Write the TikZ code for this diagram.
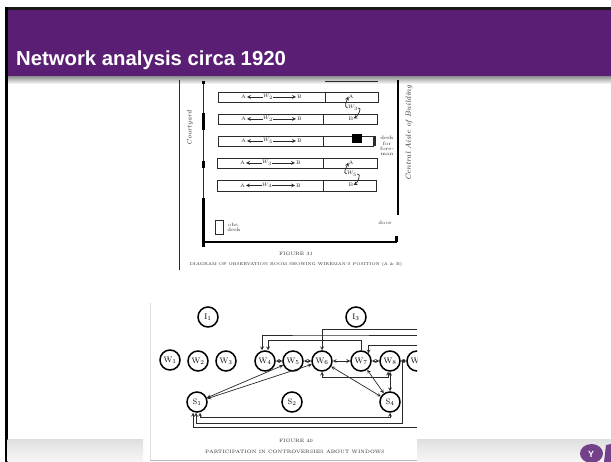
\documentclass[tikz,border=0pt]{standalone}
\usepackage{fontspec}
\setsansfont{Liberation Sans}
\usetikzlibrary{calc}
\definecolor{slidepurple}{HTML}{5A1F75}
\definecolor{inkgray}{HTML}{2A2A2A}
\tikzset{
  deskbox/.style={draw=inkgray,line width=0.9pt},
  wallthick/.style={draw=black,line width=3pt},
  wallthin/.style={draw=inkgray,line width=0.6pt},
  wire/.style={draw=inkgray,line width=0.7pt},
  person/.style={circle,draw=black,line width=1.5pt,fill=white,minimum size=20pt,inner sep=0pt,font=\fontsize{8}{8}\selectfont},
  tiny/.style={inkgray,font=\fontsize{5}{5.4}\selectfont,inner sep=0pt},
  capt/.style={inkgray,font=\fontsize{4.8}{5}\selectfont,inner sep=0pt}
}
\begin{document}
\begin{tikzpicture}[x=1pt,y=-1pt,>=stealth]
 \useasboundingbox (0,0) rectangle (611,462);
 % slide
 \fill[white] (0,0) rectangle (611,462);
 \shade[top color=gray!90,bottom color=white] (7,76) rectangle (611,84);
 \fill[slidepurple] (7,9) rectangle (611,76);
 \fill[black!90] (5,7) rectangle (611,10);
 \fill[black] (5,7) rectangle (7.5,462);
 \shade[top color=black!12,bottom color=black!3] (7.5,440) rectangle (143,462);
 \shade[top color=black!12,bottom color=black!3] (417,440) rectangle (611,462);
 \node[anchor=base west,inner sep=0pt,text=white,font=\sffamily\bfseries\fontsize{20.3}{20.3}\selectfont] (title) at (16,66) {Network analysis circa 1920};
 % logo
 \fill[slidepurple!85] (591.5,453.5) ellipse (11.5 and 9.5);
 \fill[slidepurple!85] (606,445) -- (611,444) -- (611,462) -- (604,462) -- cycle;
 \node[text=white,inner sep=0pt,font=\sffamily\bfseries\fontsize{9}{9}\selectfont] (logo) at (591,454) {Y};
 % floor plan
 \draw[wallthin] (179,80) -- (179,270);
 \draw[wallthin] (325,81) -- (378,81);
 \draw[wallthin] (203,81) -- (203,198);
 \draw[wallthick] (203,81) -- (203,84);
 \draw[wallthick] (203,113) -- (203,130);
 \draw[wallthick] (203,161) -- (203,168);
 \draw[wallthick] (203,198) -- (203,247);
 \draw[draw=black,line width=1.6pt] (203,242) -- (397,242);
 \draw[draw=black,line width=2pt] (397.5,80) -- (397.5,215);
 \draw[wallthick] (396,236) -- (396,242);
 \foreach \xa/\xb/\xm/\ya/\yb/\ww in {218/378/325/92/102/{W_2},218/377/323/114/124/{W_2},218/373/323/136/146/{W_5},217/377/323/158/168/{W_3},217/376/323/180/191/{W_4}}{
  \draw[deskbox] (\xa,\ya) rectangle (\xb,\yb);
  \draw[deskbox] (\xm,\ya) -- (\xm,\yb);
  \coordinate (a) at (\xa+29,\ya/2+\yb/2);
  \coordinate (b) at (\xa+78,\ya/2+\yb/2);
  \node[tiny] (wn) at (\xa+50,\ya/2+\yb/2) {$\ww$};
  \draw[wire,<-] (a) -- (wn);
  \draw[wire,->] (wn) -- (b);
  \node[tiny,anchor=east] at (a) {A\,};
  \node[tiny,anchor=west] at (b) {\,B};
 }
 \fill[black] (352,134) rectangle (362,143);
 \draw[wire] (362,136) -- (376,136);
 \draw[draw=inkgray,line width=2pt] (375,137) -- (375,146);
 \node[tiny,align=center] (forman) at (387,146) {desk\\for\\fore-\\man};
 \node[tiny] (ra) at (351,96.5) {A};
 \node[tiny] (rb) at (351,118.5) {B};
 \node[tiny] (rc) at (351,162.5) {A};
 \node[tiny] (rd) at (351,185) {B};
 \node[tiny] (we) at (353,108) {$W_3$};
 \node[tiny] (wf) at (352,174) {$W_5$};
 \draw[wire,->] (we.west) to[out=170,in=250] (ra.west);
 \draw[wire,->] (we.east) to[out=10,in=30] (rb.east);
 \draw[wire,->] (wf.west) to[out=170,in=250] (rc.west);
 \draw[wire,->] (wf.east) to[out=10,in=30] (rd.east);
 \node[tiny,rotate=90,font=\fontsize{6.6}{7}\selectfont] (yard) at (190,128) {\textit{Courtyard}};
 \node[tiny,rotate=90,font=\fontsize{7.4}{8}\selectfont] (aisle) at (409,133) {\textit{Central Aisle of Building}};
 \draw[deskbox] (215.5,220) rectangle (223,234);
 \node[tiny,align=center] (obs) at (234,227) {obs.\\desk};
 \node[tiny] (door) at (385,223) {door};
 \node[capt] (figa) at (296,254) {FIGURE 31};
 \node[capt,font=\fontsize{4.1}{5}\selectfont] (capa) at (296,264) {DIAGRAM OF OBSERVATION ROOM SHOWING WIREMAN'S POSITION (A \& B)};
 % network
 \draw[gray!25,line width=0.7pt] (150,303) -- (150,460);
 \draw[gray!55,line width=0.8pt] (150,460.5) -- (417,460.5);
 \begin{scope}
  \clip (145,295) rectangle (417,462);
  \foreach \n/\xx/\yy/\ll in {I1/208/317/{I$_1$},I3/356/317/{I$_3$},W1/170/360/{W$_1$},W2/198/361/{W$_2$},W3/226/361/{W$_3$},W4/265/361/{W$_4$},W5/293/361/{W$_5$},W6/322/361/{W$_6$},W7/361/361/{W$_7$},W8/390/361/{W$_8$},W9/417/361/{W$_9$},S1/197/402/{S$_1$},S2/292/402/{S$_2$},S4/390/402/{S$_4$}}
   \node[person] (\n) at (\xx,\yy) {\ll};
  \coordinate (e1) at (417,329.5);
  \coordinate (e2) at (417,335);
  \coordinate (e3) at (417,345);
  \coordinate (e4) at (417,427);
  \coordinate (c1) at (390,417);
  \coordinate (c2) at (402,423);
  \coordinate (c3) at (402,361);
  \coordinate (c4) at (322,377);
  \coordinate (c5) at (388,377);
  \coordinate (c6) at (322,335);
  \coordinate (c7) at (361,340);
  \coordinate (c8) at (322,329.5);
  \draw[wire,<->] (W4) -- (W5);
  \draw[wire,<->] (W5) -- (W6);
  \draw[wire,<->] (W6) -- (W7);
  \draw[wire,<->] (W7) -- (W8);
  \draw[wire,<->] (W8) -- (W9);
  \draw[wire,<->] (S1) -- (W5);
  \draw[wire,<->] (S1) -- (W6);
  \draw[wire,<->] (W6) -- (S4);
  \draw[wire,<->] (W7) -- (S4);
  \draw[wire,<->] (W8) -- (S4);
  \draw[wire,<->] ($(S1.south)+(3,0)$) |- (c1) -- (S4.south);
  \draw[wire,<->] ($(S1.south)+(-1,0)$) |- (c2) -- (c3) -- (W8.east);
  \draw[wire,<-] ($(S1.south)+(-4,0)$) |- (e4);
  \draw[wire,<->] (W6.south) -- (c4) -- (c5) -- ($(W8.south)+(-2,0)$);
  \draw[wire,<-] ($(W4.north)+(-3,0)$) |- (c6) -- (e2);
  \draw[wire,<-] ($(W4.north)+(3,0)$) |- (c7) -- (W7.north);
  \draw[wire,<-] (W6.north) -- (c8) -- (e1);
  \draw[wire,<-] (W7.north east) |- (e3);
 \end{scope}
 \node[capt] (figb) at (296,441) {FIGURE 40};
 \node[capt] (capb) at (295,452) {PARTICIPATION IN CONTROVERSIES ABOUT WINDOWS};
\end{tikzpicture}
\end{document}
